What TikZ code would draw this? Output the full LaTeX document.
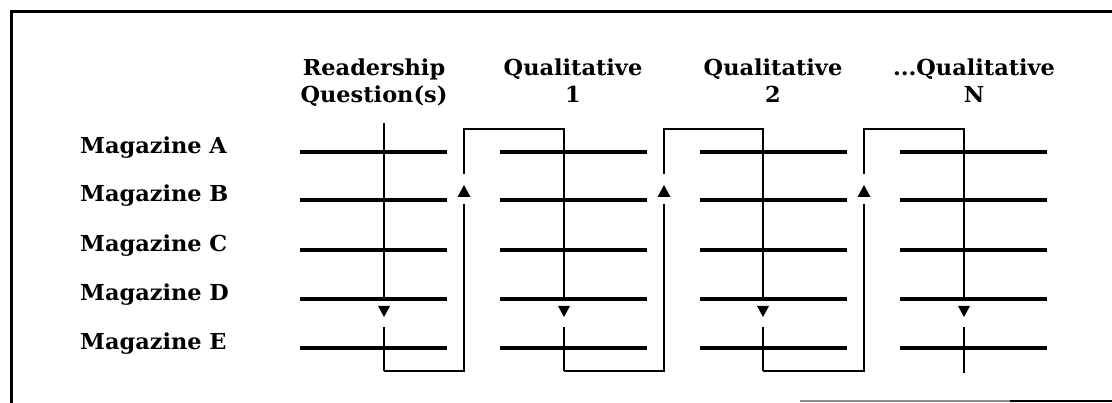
\documentclass[tikz,border=0pt]{standalone}
\usepackage{fontspec}
\newfontfamily\dfont{DejaVu Serif}[FakeStretch=1.02]
\begin{document}
\begin{tikzpicture}[x=1pt,y=-1pt,
  lbl/.style={anchor=base west,inner sep=0pt,font=\dfont\bfseries\fontsize{22}{26}\selectfont},
  hdr/.style={anchor=base,inner sep=0pt,font=\dfont\bfseries\fontsize{22}{26}\selectfont},
  rowline/.style={line width=3.2pt},
  flow/.style={line width=2.6pt},
  frame/.style={line width=3pt},
  tri/.style={fill=black,draw=none}]
\useasboundingbox (0,0) rectangle (1112,403);
% frame
\draw[frame] (11,403) -- (11,12) -- (1112,12);
\draw[line width=1.5pt,black!45] (800,401) -- (1010,401);
\draw[line width=2.5pt] (1010,401) -- (1112,401);
% headers
\node[hdr] (h0a) at (374,76) {Readership};
\node[hdr] (h0b) at (374,103) {Question(s)};
\node[hdr] (h1a) at (573,76) {Qualitative};
\node[hdr] (h1b) at (573,103) {1};
\node[hdr] (h2a) at (773,76) {Qualitative};
\node[hdr] (h2b) at (773,103) {2};
\node[hdr] (h3a) at (974,76) {...Qualitative};
\node[hdr] (h3b) at (974,103) {N};
% row labels and lines
\foreach \n/\y in {A/152,B/200,C/250,D/299,E/348}{
  \node[lbl] (lab\n) at (80,\y+2) {Magazine \n};
  \foreach \c in {0,1,2,3}{
    \draw[rowline] ({300+200*\c},\y) -- ({447+200*\c},\y);
  }
}
% flow path
\coordinate (v0t) at (384,123);
\coordinate (v0d) at (384,299);
\coordinate (v0e) at (384,327);
\coordinate (v0b) at (384,371);
\draw[flow] (v0t) -- (v0d);
\draw[flow] (v0e) -- (v0b);
\foreach \c/\v/\l in {1/564/464,2/763/664,3/964/864}{
  \coordinate (l\c b) at (\l,371);
  \coordinate (l\c m) at (\l,204);
  \coordinate (l\c u) at (\l,174);
  \coordinate (l\c t) at (\l,129);
  \coordinate (v\c t) at (\v,129);
  \coordinate (v\c d) at (\v,299);
  \coordinate (v\c e) at (\v,327);
  \coordinate (v\c b) at (\v,371);
  \fill[tri] (\l,185) -- (\l-6.5,197) -- (\l+6.5,197) -- cycle;
  \draw[flow] (l\c u) -- (l\c t) -- (v\c t) -- (v\c d);
  \draw[flow] (v\c e) -- (v\c b);
}
\draw[flow] (v0b) -- (l1b) -- (l1m);
\draw[flow] (v1b) -- (l2b) -- (l2m);
\draw[flow] (v2b) -- (l3b) -- (l3m);
\draw[flow] (v3b) -- ++(0,2);
\foreach \v in {384,564,763,964}{
  \fill[tri] (\v,317) -- (\v-6,306) -- (\v+6,306) -- cycle;
}
\end{tikzpicture}
\end{document}
